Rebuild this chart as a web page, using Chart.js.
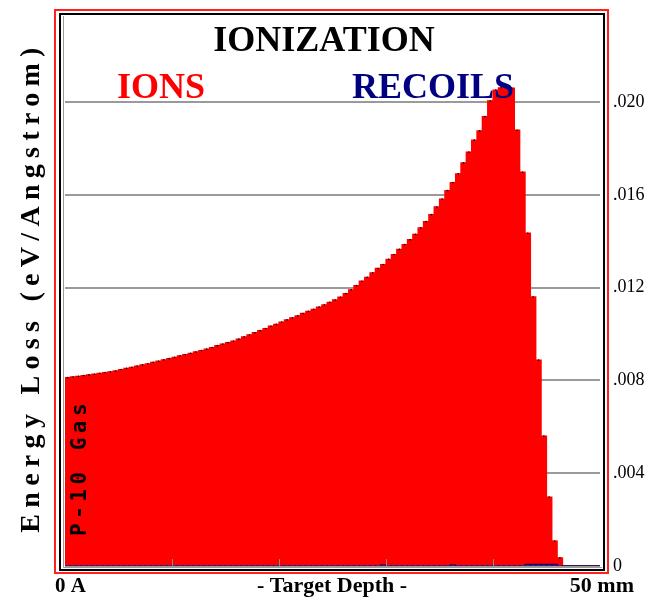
<!DOCTYPE html>
<html>
<head>
<meta charset="utf-8">
<script src="https://cdn.jsdelivr.net/npm/chart.js@4/dist/chart.umd.min.js"></script>
<style>
html,body{margin:0;padding:0;background:#fff;}
canvas{display:block;}
</style>
</head>
<body>
<canvas id="c" width="649" height="602"></canvas>
<script>
// ---- data ----
const binWidthMm = 0.5;
const binCount = 100;
const depthBins = Array.from({length: binCount}, (_, i) => ((i + 0.5) * binWidthMm).toFixed(2));
const ionsEnergyLoss = [
0.00812,0.00815,0.00818,0.00821,0.00824,0.00827,0.00831,0.00834,0.00837,0.00841,
0.00847,0.00852,0.00857,0.00862,0.00867,0.00872,0.00878,0.00883,0.00889,0.00894,
0.00900,0.00906,0.00911,0.00917,0.00923,0.00929,0.00935,0.00942,0.00950,0.00957,
0.00963,0.00970,0.00978,0.00988,0.00997,0.01006,0.01015,0.01024,0.01034,0.01042,
0.01052,0.01061,0.01070,0.01079,0.01089,0.01098,0.01107,0.01116,0.01126,0.01137,
0.01147,0.01159,0.01175,0.01191,0.01209,0.01228,0.01245,0.01264,0.01283,0.01300,
0.01322,0.01343,0.01365,0.01386,0.01407,0.01430,0.01458,0.01485,0.01515,0.01548,
0.01582,0.01619,0.01653,0.01691,0.01738,0.01785,0.01836,0.01876,0.01938,0.02005,
0.02052,0.02062,0.02066,0.02061,0.01879,0.01698,0.01435,0.01160,0.00888,0.00560,
0.00297,0.00108,0.00035,0,0,0,0,0,0,0
];
const recoilsEnergyLoss = [
0,0,0,0,0,0,0,0,0,0,
0,0,0,0,0,0,0,0,0,0,
0,0,0,0,0,0,0,0,0,0,
0,0,0,0,0,0,0,0,0,0,
0,0,0,0,0,0,0,0,0,0,
0,0,0,0,0,0,0,0,0,0.00004,
0,0,0,0,0,0,0,0,0,0,
0,0,0.00004,0,0,0,0,0,0,0,
0,0,0,0,0,0,0.00007,0.00007,0.00007,0.00007,
0.00007,0.00007,0,0,0,0,0,0,0,0
];
const yTickValues = [0, 0.004, 0.008, 0.012, 0.016, 0.020];
const yTickLabels = ['0', '.004', '.008', '.012', '.016', '.020'];
const depthTickMm = [10, 20, 30, 40];
const yMax = 0.0238;

const SERIF = '"Liberation Serif", "Times New Roman", serif';

const decor = {
  id: 'decor',
  afterDraw(chart) {
    const ctx = chart.ctx;
    const a = chart.chartArea;
    const xs = chart.scales.x;
    ctx.save();
    // frames
    ctx.strokeStyle = '#ff2020';
    ctx.lineWidth = 2;
    ctx.strokeRect(55, 10, 553, 563);
    ctx.strokeStyle = '#000';
    ctx.lineWidth = 2;
    ctx.strokeRect(60, 14, 544, 556);
    ctx.strokeStyle = '#9a9a9a';
    ctx.lineWidth = 1;
    ctx.beginPath();
    ctx.moveTo(63.5, 16); ctx.lineTo(63.5, a.bottom + 1.5);
    ctx.lineTo(602, a.bottom + 1.5);
    ctx.stroke();
    // depth ticks
    ctx.strokeStyle = '#8a8a8a';
    ctx.lineWidth = 1;
    depthTickMm.forEach(d => {
      const idx = d / binWidthMm;
      const px = (xs.getPixelForValue(idx - 1) + xs.getPixelForValue(idx)) / 2;
      ctx.beginPath();
      ctx.moveTo(Math.round(px) + 0.5, a.bottom - 7);
      ctx.lineTo(Math.round(px) + 0.5, a.bottom);
      ctx.stroke();
    });
    // titles
    ctx.textBaseline = 'alphabetic';
    ctx.font = 'bold 36px ' + SERIF;
    ctx.fillStyle = '#000';
    ctx.textAlign = 'center';
    ctx.fillText('IONIZATION', 324, 51);
    ctx.textAlign = 'left';
    ctx.fillStyle = '#ff0000';
    ctx.fillText('IONS', 117, 98);
    ctx.fillStyle = '#000080';
    ctx.fillText('RECOILS', 352, 98);
    // bottom labels
    ctx.fillStyle = '#000';
    ctx.font = 'bold 21px ' + SERIF;
    ctx.textAlign = 'left';
    ctx.fillText('0 A', 55, 592);
    ctx.font = 'bold 22px ' + SERIF;
    ctx.textAlign = 'center';
    ctx.fillText('- Target Depth -', 332, 592);
    ctx.textAlign = 'right';
    ctx.fillText('50 mm', 634, 592);
    // y-axis title
    ctx.save();
    ctx.translate(39, 290);
    ctx.rotate(-Math.PI / 2);
    ctx.textAlign = 'center';
    ctx.font = 'bold 28px ' + SERIF;
    try { ctx.letterSpacing = '6.3px'; } catch (e) {}
    ctx.fillText('Energy Loss (eV/Angstrom)', 3, 0);
    ctx.restore();
    // material label
    ctx.save();
    ctx.translate(86, 536);
    ctx.rotate(-Math.PI / 2);
    ctx.textAlign = 'left';
    ctx.font = 'bold 21px "DejaVu Sans Mono", monospace';
    try { ctx.letterSpacing = '4.5px'; } catch (e) {}
    ctx.fillText('P-10 Gas', 0, 0);
    ctx.restore();
    ctx.restore();
  }
};

new Chart(document.getElementById('c'), {
  type: 'bar',
  data: {
    labels: depthBins,
    datasets: [
      {
        type: 'line',
        label: 'points',
        data: ionsEnergyLoss,
        showLine: false,
        pointRadius: 0.8,
        pointBorderWidth: 0,
        pointBackgroundColor: '#000',
        order: 0
      },
      {
        label: 'RECOILS',
        data: recoilsEnergyLoss,
        backgroundColor: '#000080',
        borderWidth: 0,
        barPercentage: 1,
        categoryPercentage: 1,
        inflateAmount: 0.6,
        grouped: false,
        order: 1
      },
      {
        label: 'IONS',
        data: ionsEnergyLoss,
        backgroundColor: '#ff0000',
        borderWidth: 0,
        barPercentage: 1,
        categoryPercentage: 1,
        inflateAmount: 0.6,
        grouped: false,
        order: 2
      }
    ]
  },
  options: {
    responsive: false,
    devicePixelRatio: 1,
    animation: false,
    events: [],
    layout: { padding: { left: 65, top: 14, bottom: 36, right: 0 } },
    plugins: { legend: { display: false }, tooltip: { enabled: false } },
    scales: {
      x: { display: false, offset: true },
      y: {
        position: 'right',
        min: 0,
        max: yMax,
        z: 1,
        afterFit: s => { s.width = 49; s.paddingTop = 0; s.paddingBottom = 0; },
        afterBuildTicks: s => { s.ticks = yTickValues.map(v => ({ value: v })); },
        ticks: {
          padding: 13,
          color: '#000',
          font: { family: SERIF, size: 18 },
          callback: v => { const i = yTickValues.findIndex(t => Math.abs(t - v) < 1e-9); return i >= 0 ? yTickLabels[i] : ''; }
        },
        grid: { color: '#9a9a9a', lineWidth: 2, drawTicks: false },
        border: { display: false }
      }
    }
  },
  plugins: [decor]
});
</script>
</body>
</html>
